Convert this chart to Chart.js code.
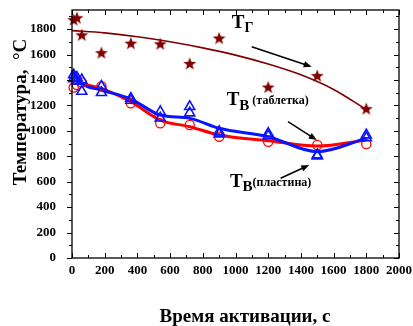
<!DOCTYPE html>
<html>
<head>
<meta charset="utf-8">
<script src="https://cdn.jsdelivr.net/npm/chart.js@4"></script>
<style>
html,body{margin:0;padding:0;background:#fff;}
#wrap{width:413px;height:326px;position:relative;}
</style>
</head>
<body>
<div id="wrap"><canvas id="c" width="413" height="326"></canvas></div>
<script>
// ---- data ----
const xTicks = [0,200,400,600,800,1000,1200,1400,1600,1800,2000];
const yTicks = [0,200,400,600,800,1000,1200,1400,1600,1800];
const times = [10,30,60,180,360,540,720,900,1200,1500,1800];
const tgStars = [1870,1885,1750,1610,1685,1680,1525,1725,1340,1430,1170];
const tgFitT = [0,200,400,600,800,1000,1200,1400,1600,1800];
const tgFitV = [1788,1770,1740,1700,1652,1595,1525,1440,1325,1167];
const tabletCircles = [1340,1360,1380,1350,1216,1060,1046,954,914,888,896];
const plateTrianglesA = [1440,1420,1400,1350,1255,1150,1190,993,980,802,967];
const plateTrianglesB = [1410,1390,1310,1300,1240,1100,1140,975,960,810,945];
const lineT = [0,60,180,360,540,720,900,1200,1500,1800];
const tabletLine = [1455,1380,1334,1229,1085,1032,967,922,880,928];
const plateLine = [1478,1373,1321,1250,1124,1098,1020,954,836,941];

const DARK = '#800000', RED = '#ff0000', BLUE = '#0a14ff';
const FONT = "'Liberation Serif','Times New Roman',serif";
Chart.defaults.font.family = FONT;

function pts(xs, ys){ return xs.map((x,i)=>({x:x,y:ys[i]})); }

// filled five-pointed star point style
function makeStar(r, color){
  const c = document.createElement('canvas');
  c.width = c.height = Math.ceil(2*r+2);
  const g = c.getContext('2d');
  const cx = c.width/2, cy = c.height/2;
  g.beginPath();
  for(let i=0;i<10;i++){
    const rr = i%2===0 ? r : r*0.42;
    const a = -Math.PI/2 + i*Math.PI/5;
    const px = cx + rr*Math.cos(a), py = cy + rr*Math.sin(a);
    if(i===0) g.moveTo(px,py); else g.lineTo(px,py);
  }
  g.closePath();
  g.fillStyle = color; g.fill();
  return c;
}
const starImg = makeStar(6.8, DARK);

const decor = {
  id:'decor',
  afterDraw(chart){
    const ctx = chart.ctx, a = chart.chartArea;
    const xs = chart.scales.x, ys = chart.scales.y;
    ctx.save();
    ctx.strokeStyle = '#000'; ctx.lineWidth = 1.3;
    ctx.strokeRect(a.left, a.top, a.right-a.left, a.bottom-a.top);
    ctx.lineWidth = 1;
    ctx.beginPath();
    for(let v=0; v<=1900; v+=100){
      const y = Math.round(ys.getPixelForValue(v))+0.5;
      const L = (v%200===0)?5:3;
      ctx.moveTo(a.left-L, y); ctx.lineTo(a.left, y);
      ctx.moveTo(a.right, y); ctx.lineTo(a.right-L, y);
    }
    for(let v=0; v<=2000; v+=100){
      const x = Math.round(xs.getPixelForValue(v))+0.5;
      const L = (v%200===0)?5:3;
      ctx.moveTo(x, a.bottom); ctx.lineTo(x, a.bottom-L);
      ctx.moveTo(x, a.top); ctx.lineTo(x, a.top+L);
    }
    ctx.stroke();

    // axis titles
    ctx.fillStyle = '#000';
    ctx.font = 'bold 19px ' + FONT;
    ctx.textAlign = 'center'; ctx.textBaseline = 'alphabetic';
    ctx.fillText('Время активации, с', 245, 322);
    ctx.save();
    ctx.translate(26, 112); ctx.rotate(-Math.PI/2);
    ctx.fillText('Температура,  °C', 0, 0);
    ctx.restore();

    // annotations
    const P = (t,v)=>[xs.getPixelForValue(t), ys.getPixelForValue(v)];
    function label(t, v, sub, subDy, tail, subSize){
      let [x,y] = P(t,v);
      ctx.textAlign='left'; ctx.textBaseline='alphabetic';
      ctx.font = 'bold 19px ' + FONT;
      ctx.fillText('T', x, y);
      x += ctx.measureText('T').width;
      ctx.font = 'bold ' + subSize + 'px ' + FONT;
      ctx.fillText(sub, x, y+subDy);
      x += ctx.measureText(sub).width;
      if(tail){
        ctx.font = 'bold 12px ' + FONT;
        ctx.fillText(tail.text, x + tail.gap, y - 1);
      }
    }
    label(977, 1806, 'Г', 3.5, null, 14);
    label(946, 1203, 'B', 5, {text:'(таблетка)', gap:3}, 15);
    label(966, 560, 'B', 4, {text:'(пластина)', gap:0}, 15);

    function arrow(t1,v1,t2,v2){
      const [x1,y1]=P(t1,v1), [x2,y2]=P(t2,v2);
      const ang = Math.atan2(y2-y1, x2-x1), h=8, w=3.2;
      ctx.strokeStyle='#000'; ctx.fillStyle='#000'; ctx.lineWidth=1.5;
      ctx.beginPath(); ctx.moveTo(x1,y1);
      ctx.lineTo(x2 - h*0.8*Math.cos(ang), y2 - h*0.8*Math.sin(ang)); ctx.stroke();
      ctx.beginPath();
      ctx.moveTo(x2,y2);
      ctx.lineTo(x2 - h*Math.cos(ang) + w*Math.sin(ang), y2 - h*Math.sin(ang) - w*Math.cos(ang));
      ctx.lineTo(x2 - h*Math.cos(ang) - w*Math.sin(ang), y2 - h*Math.sin(ang) + w*Math.cos(ang));
      ctx.closePath(); ctx.fill();
    }
    arrow(1099,1661,1466,1504);
    arrow(1321,1072,1497,928);
    arrow(1276,627,1451,731);
    ctx.restore();
  }
};

new Chart(document.getElementById('c'), {
  type:'line',
  data:{
    datasets:[
      {label:'Tг fit', data:pts(tgFitT,tgFitV), borderColor:DARK, borderWidth:1.6, pointRadius:0, tension:0.4, cubicInterpolationMode:'monotone', order:6},
      {label:'Tг', data:pts(times,tgStars), showLine:false, pointStyle:starImg, pointRadius:6, order:1},
      {label:'таблетка line', data:pts(lineT,tabletLine), borderColor:RED, borderWidth:3, pointRadius:0, tension:0.4, cubicInterpolationMode:'monotone', order:5},
      {label:'пластина line', data:pts(lineT,plateLine), borderColor:BLUE, borderWidth:3, pointRadius:0, tension:0.4, cubicInterpolationMode:'monotone', order:4},
      {label:'таблетка', data:pts(times,tabletCircles), showLine:false, pointStyle:'circle', pointRadius:4.6, borderColor:RED, backgroundColor:'rgba(0,0,0,0)', pointBorderWidth:1.3, order:3},
      {label:'пластина A', data:pts(times,plateTrianglesA), showLine:false, pointStyle:'triangle', pointRadius:5.8, borderColor:BLUE, backgroundColor:'rgba(0,0,0,0)', pointBorderWidth:1.6, order:2},
      {label:'пластина B', data:pts(times,plateTrianglesB), showLine:false, pointStyle:'triangle', pointRadius:5.8, borderColor:BLUE, backgroundColor:'rgba(0,0,0,0)', pointBorderWidth:1.6, order:2}
    ]
  },
  options:{
    responsive:false, animation:false, clip:false,
    layout:{padding:{left:0,top:10,right:14,bottom:0}},
    plugins:{legend:{display:false}, tooltip:{enabled:false}},
    scales:{
      x:{type:'linear', min:0, max:2000,
        grid:{display:false}, border:{display:false},
        afterBuildTicks:s=>{ s.ticks = xTicks.map(v=>({value:v})); },
        afterFit:s=>{ s.height = 68; s.paddingLeft = 0; s.paddingRight = 0; },
        ticks:{color:'#000', font:{size:13, weight:'bold'}, padding:-3, maxRotation:0, autoSkip:false, callback:v=>String(v)}
      },
      y:{type:'linear', min:0, max:1950,
        grid:{display:false}, border:{display:false},
        afterBuildTicks:s=>{ s.ticks = yTicks.map(v=>({value:v})); },
        afterFit:s=>{ s.width = 72; s.paddingTop = 0; s.paddingBottom = 0; },
        ticks:{color:'#000', font:{size:13, weight:'bold'}, padding:8, autoSkip:false, callback:v=>String(v)}
      }
    }
  },
  plugins:[decor]
});
</script>
</body>
</html>
